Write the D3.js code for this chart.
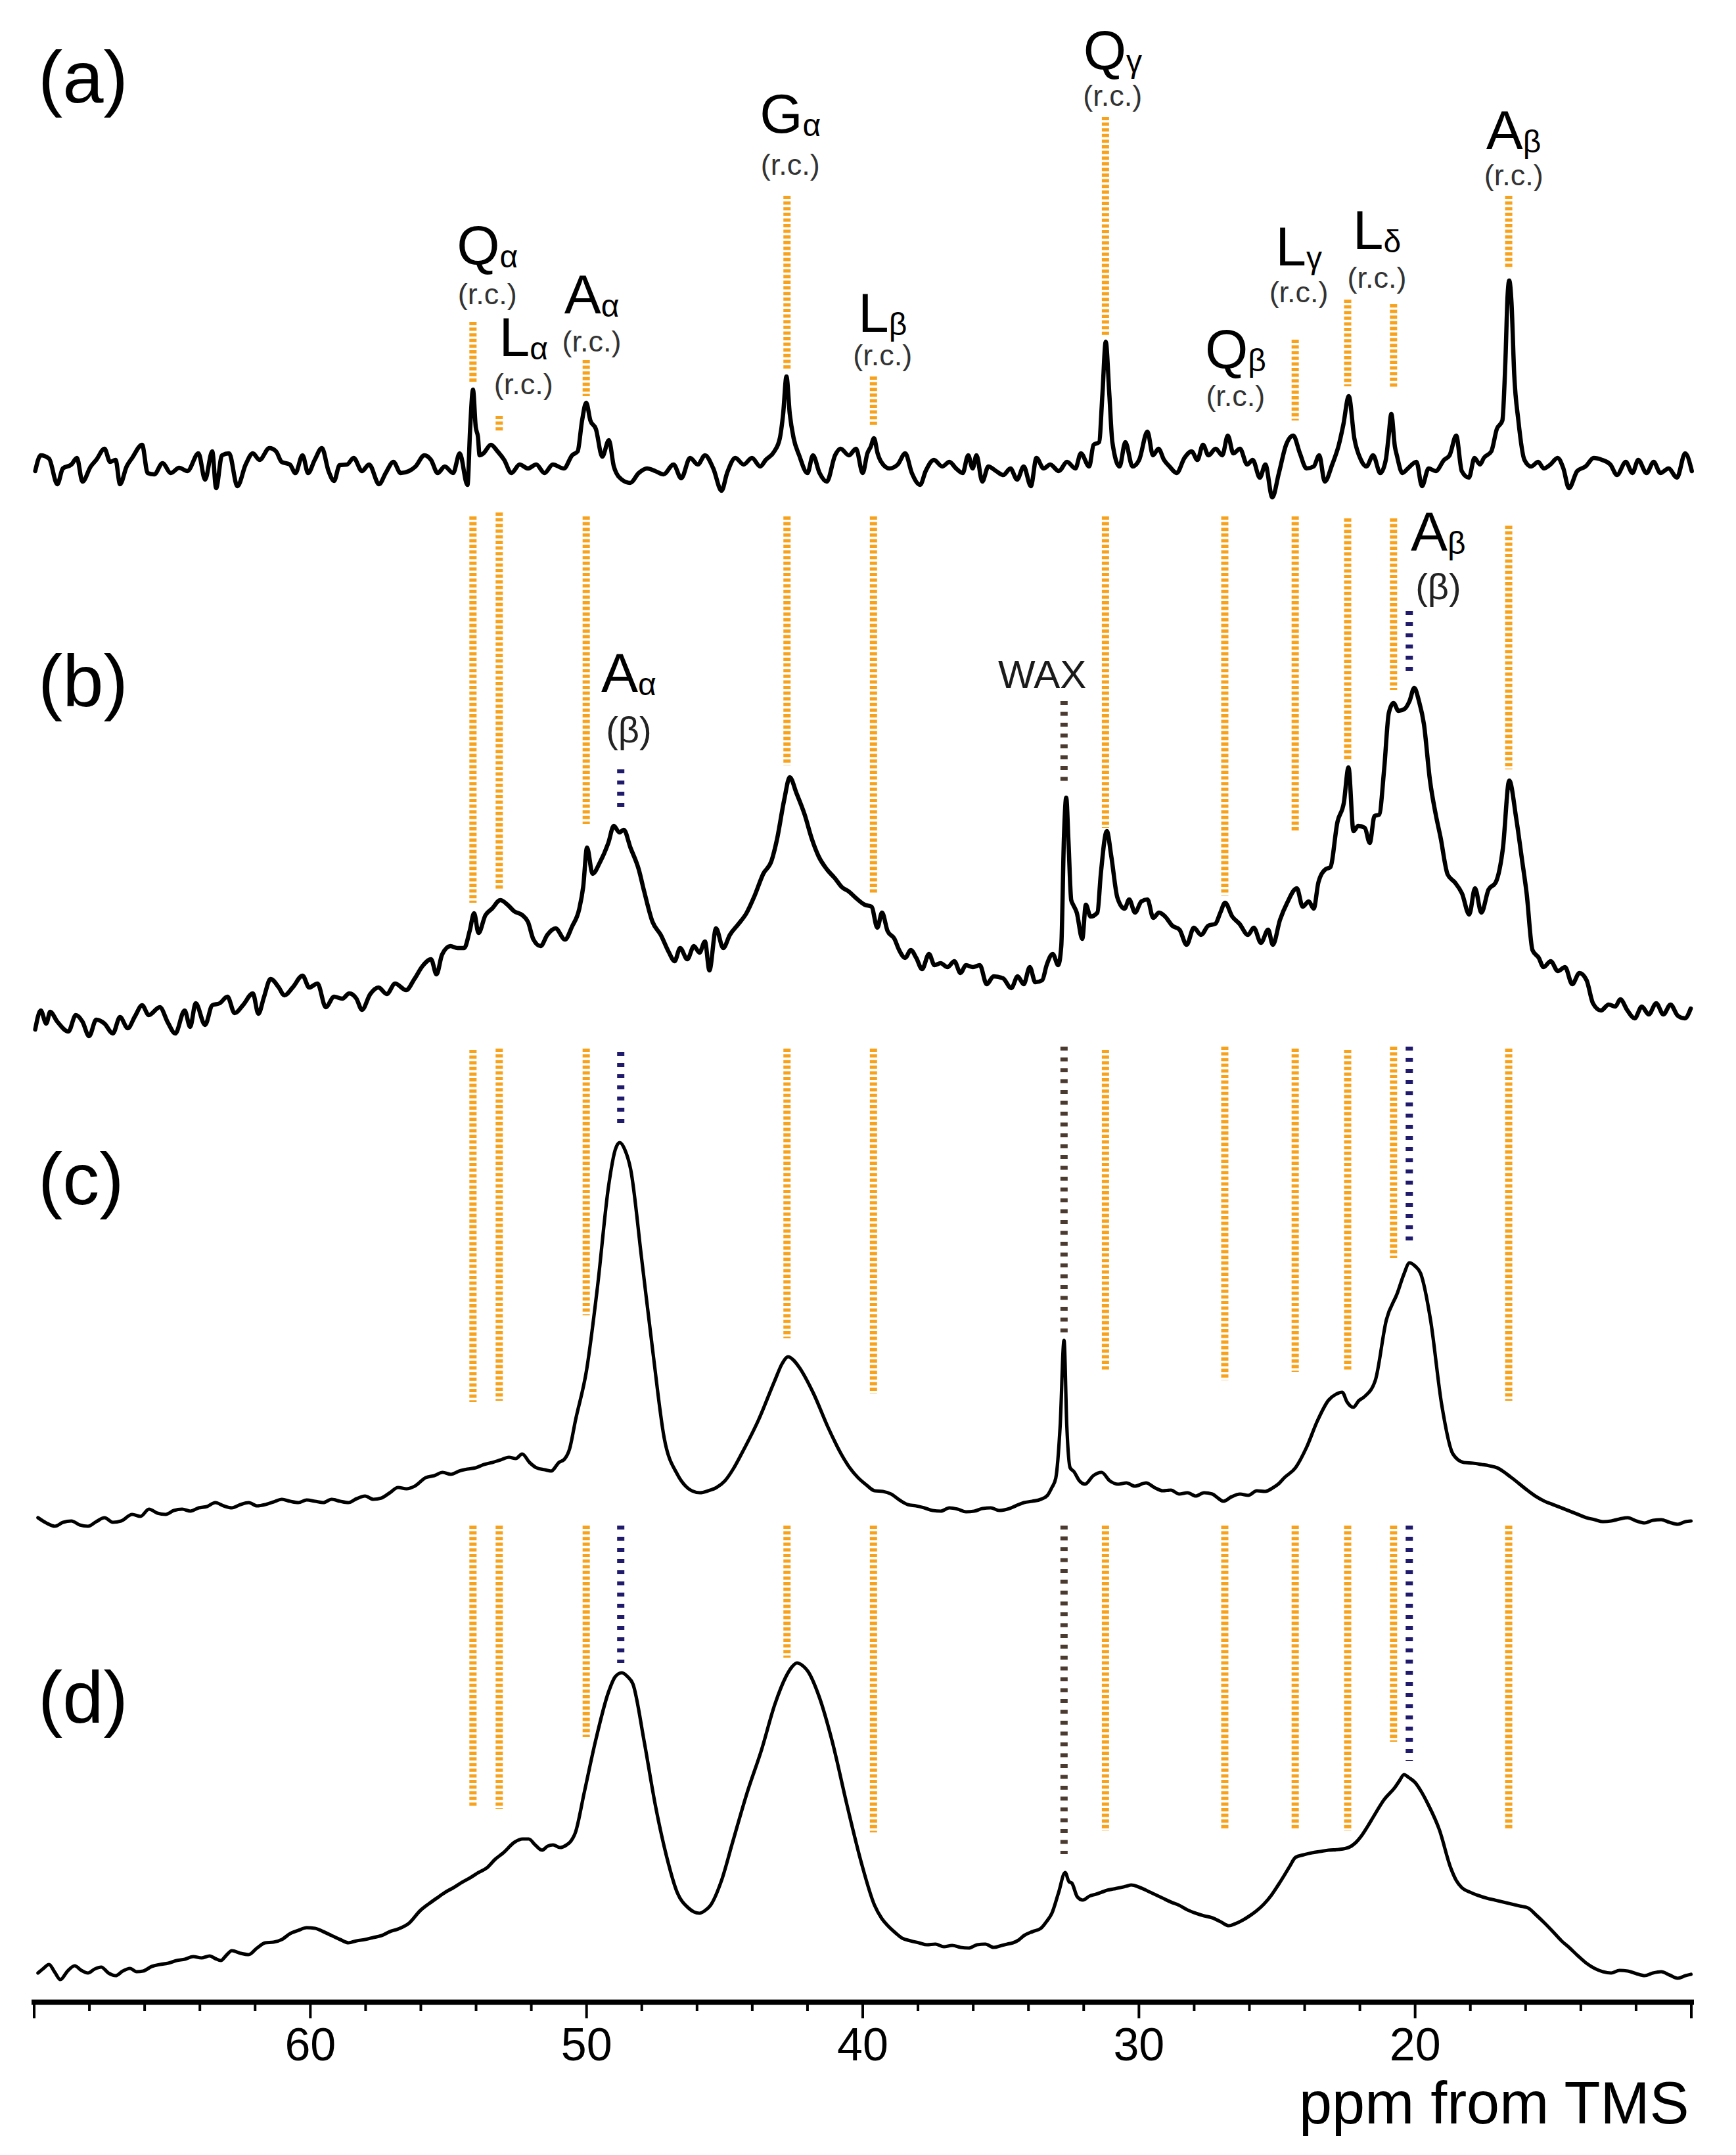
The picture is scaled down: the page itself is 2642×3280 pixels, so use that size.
<!DOCTYPE html>
<html><head><meta charset="utf-8">
<script src="https://cdn.jsdelivr.net/npm/d3@7"></script>
<style>
html,body{margin:0;padding:0;background:#fff;}
svg{display:block;}
</style></head><body>
<svg id="chart" width="2642" height="3280"></svg>
<script>
// ---------- DATA (ppm, intensity in arbitrary units above each trace's baseline) ----------
const specA = [[69.95,23],[69.75,47],[69.45,42],[69.15,3],[68.95,27],[68.64,33],[68.44,43],[68.24,7],[67.94,30],[67.74,40],[67.44,57],[67.24,37],[67.04,40],[66.88,3],[66.64,30],[66.44,43],[66.08,63],[65.88,20],[65.64,18],[65.34,35],[65.04,20],[64.74,28],[64.44,23],[64.04,50],[63.8,10],[63.54,53],[63.4,-3],[63.19,47],[62.93,50],[62.63,0],[62.33,33],[62.07,50],[61.83,40],[61.47,58],[61.23,53],[61.03,37],[60.73,33],[60.53,20],[60.27,47],[60.07,20],[59.83,40],[59.57,58],[59.33,23],[59.13,8],[58.93,32],[58.66,33],[58.42,43],[58.12,23],[57.86,33],[57.5,3],[57.26,20],[56.98,37],[56.72,20],[56.42,23],[56.18,30],[55.86,47],[55.62,40],[55.38,20],[55.12,30],[54.82,20],[54.58,50],[54.3,2],[54.2,90],[54.1,147],[54.0,90],[53.92,75],[53.86,47],[53.72,50],[53.45,63],[53.21,53],[52.97,40],[52.71,20],[52.41,33],[52.11,27],[51.81,33],[51.51,20],[51.21,33],[50.81,27],[50.51,47],[50.31,53],[50.15,100],[50.0,127],[49.85,100],[49.65,87],[49.42,45],[49.18,70],[49.0,30],[48.91,20],[48.71,10],[48.41,5],[48.1,20],[47.8,27],[47.5,23],[47.2,18],[46.84,33],[46.56,12],[46.24,43],[45.96,33],[45.7,47],[45.4,27],[45.1,-7],[44.9,20],[44.6,43],[44.3,33],[44.0,43],[43.7,30],[43.5,40],[43.19,53],[42.99,73],[42.87,110],[42.75,167],[42.63,110],[42.49,73],[42.29,47],[41.99,20],[41.79,47],[41.55,20],[41.29,7],[40.99,47],[40.79,57],[40.49,47],[40.23,57],[39.99,20],[39.82,50],[39.7,60],[39.58,73],[39.45,50],[39.32,37],[39.02,27],[38.72,33],[38.45,50],[38.21,20],[37.91,2],[37.71,23],[37.41,40],[37.11,30],[36.85,37],[36.61,27],[36.37,20],[36.17,47],[36.01,27],[35.87,47],[35.66,7],[35.44,30],[35.16,23],[34.9,17],[34.64,27],[34.4,10],[34.16,30],[33.9,0],[33.7,43],[33.44,27],[33.2,33],[32.89,23],[32.59,37],[32.29,27],[32.09,50],[31.79,30],[31.63,63],[31.43,67],[31.31,140],[31.19,220],[31.06,140],[30.95,67],[30.69,30],[30.48,67],[30.22,30],[29.98,40],[29.68,83],[29.48,47],[29.28,57],[29.08,40],[28.88,30],[28.62,20],[28.34,43],[28.08,53],[27.87,40],[27.67,63],[27.47,47],[27.21,57],[26.97,47],[26.77,77],[26.57,50],[26.33,57],[26.07,33],[25.87,40],[25.61,13],[25.41,33],[25.16,-17],[24.92,20],[24.66,63],[24.4,77],[24.16,50],[23.92,27],[23.66,30],[23.46,47],[23.26,7],[22.99,33],[22.75,63],[22.59,93],[22.39,137],[22.19,73],[21.95,40],[21.75,30],[21.51,47],[21.25,20],[21.05,40],[20.95,75],[20.85,110],[20.72,60],[20.65,47],[20.45,20],[20.25,27],[19.94,37],[19.74,0],[19.5,27],[19.24,23],[18.94,40],[18.74,47],[18.5,77],[18.3,23],[18.04,13],[17.84,43],[17.64,33],[17.5,43],[17.23,53],[17.03,87],[16.83,100],[16.72,190],[16.64,290],[16.58,313],[16.5,280],[16.4,170],[16.25,100],[16.03,40],[15.79,30],[15.53,37],[15.33,27],[15.09,33],[14.83,43],[14.62,27],[14.42,-3],[14.12,23],[13.82,30],[13.52,43],[13.22,40],[12.92,33],[12.68,17],[12.36,37],[12.12,20],[11.91,40],[11.61,20],[11.35,37],[11.11,20],[10.81,27],[10.51,13],[10.21,50],[9.97,23]];

const specB = [[69.95,3],[69.75,32],[69.55,12],[69.41,30],[69.15,15],[68.75,0],[68.48,25],[68.24,15],[68.0,-7],[67.74,18],[67.44,12],[67.14,-3],[66.88,22],[66.6,5],[66.34,23],[66.08,40],[65.84,25],[65.44,37],[65.14,13],[64.88,-3],[64.54,32],[64.34,7],[64.14,43],[63.8,10],[63.54,40],[63.27,43],[62.99,53],[62.73,28],[62.43,40],[62.07,58],[61.87,27],[61.67,52],[61.43,80],[61.13,67],[60.93,55],[60.63,67],[60.27,85],[60.03,67],[59.73,73],[59.43,37],[59.13,53],[58.83,50],[58.58,58],[58.32,50],[58.12,33],[57.82,57],[57.52,67],[57.22,57],[56.92,73],[56.52,63],[56.22,80],[55.92,100],[55.62,110],[55.42,87],[55.22,117],[54.92,130],[54.66,127],[54.42,127],[54.22,153],[54.06,180],[53.9,150],[53.65,177],[53.41,187],[53.11,200],[52.85,193],[52.61,183],[52.31,177],[52.11,167],[51.91,140],[51.65,130],[51.41,147],[51.11,157],[50.77,140],[50.51,160],[50.25,187],[50.11,220],[49.97,280],[49.77,240],[49.51,257],[49.2,287],[49.0,313],[48.8,303],[48.64,307],[48.4,280],[48.1,247],[47.9,213],[47.6,167],[47.3,147],[47.0,120],[46.8,107],[46.6,127],[46.34,110],[46.1,130],[45.9,120],[45.7,137],[45.54,93],[45.3,157],[45.04,127],[44.8,147],[44.5,163],[44.2,180],[43.9,207],[43.59,240],[43.29,260],[43.09,293],[42.83,353],[42.63,387],[42.39,363],[42.09,330],[41.83,293],[41.59,267],[41.29,247],[40.99,233],[40.75,220],[40.49,213],[40.23,203],[39.92,193],[39.67,190],[39.46,158],[39.29,181],[39.09,153],[38.84,141],[38.67,124],[38.45,112],[38.25,124],[38.05,112],[37.84,95],[37.59,118],[37.39,101],[37.17,104],[36.92,98],[36.67,107],[36.45,89],[36.25,101],[36.0,98],[35.75,101],[35.5,72],[35.25,84],[34.91,81],[34.61,66],[34.38,84],[34.16,72],[33.94,98],[33.74,75],[33.49,78],[33.33,101],[33.11,118],[32.91,101],[32.8,130],[32.7,300],[32.62,356],[32.54,290],[32.44,200],[32.37,193],[32.24,181],[32.04,141],[31.91,193],[31.74,175],[31.49,181],[31.37,239],[31.15,305],[30.99,267],[30.77,204],[30.51,187],[30.34,201],[30.13,181],[29.9,198],[29.68,201],[29.47,173],[29.26,181],[29.04,175],[28.78,161],[28.52,155],[28.26,132],[28.0,158],[27.74,147],[27.48,161],[27.22,164],[27.04,181],[26.87,196],[26.61,175],[26.35,164],[26.04,147],[25.83,158],[25.57,135],[25.31,155],[25.14,132],[24.88,170],[24.62,196],[24.27,218],[24.06,190],[23.84,198],[23.66,187],[23.49,227],[23.23,247],[23.06,250],[22.8,319],[22.57,348],[22.4,402],[22.22,305],[22.05,313],[21.81,310],[21.63,287],[21.46,328],[21.29,330],[21.11,399],[20.94,485],[20.77,500],[20.59,488],[20.37,491],[20.19,503],[20.02,523],[19.85,503],[19.67,468],[19.45,382],[19.24,330],[19.07,296],[18.81,239],[18.55,227],[18.29,210],[18.03,178],[17.82,218],[17.59,181],[17.33,216],[17.07,227],[16.81,279],[16.58,382],[16.33,325],[16.12,262],[15.95,210],[15.74,124],[15.51,112],[15.34,98],[15.08,107],[14.82,92],[14.56,98],[14.3,72],[14.04,89],[13.78,78],[13.55,43],[13.26,32],[12.98,41],[12.74,38],[12.56,49],[12.3,32],[12.04,20],[11.78,38],[11.53,26],[11.26,43],[11.0,26],[10.74,41],[10.48,24],[10.22,20],[10.01,35]];

const specC = [[69.85,20],[69.55,12],[69.24,7],[68.94,13],[68.64,15],[68.34,9],[68.04,7],[67.74,14],[67.44,20],[67.14,13],[66.84,15],[66.44,25],[66.14,22],[65.83,33],[65.53,27],[65.23,25],[64.93,31],[64.63,33],[64.33,30],[64.03,35],[63.73,37],[63.43,43],[63.13,38],[62.83,35],[62.52,40],[62.22,43],[61.92,38],[61.62,40],[61.32,44],[61.02,48],[60.72,45],[60.42,43],[60.12,47],[59.82,45],[59.52,43],[59.22,48],[58.91,45],[58.61,43],[58.31,49],[58.01,53],[57.71,48],[57.41,50],[57.11,58],[56.81,66],[56.51,64],[56.21,68],[55.81,81],[55.5,84],[55.2,89],[54.9,86],[54.6,91],[54.3,94],[54.0,96],[53.7,101],[53.4,104],[53.1,108],[52.8,112],[52.55,110],[52.32,117],[52.05,104],[51.8,96],[51.5,93],[51.27,91],[50.99,104],[50.79,109],[50.6,125],[50.39,168],[49.99,244],[49.59,372],[49.19,525],[48.95,580],[48.79,591],[48.6,580],[48.39,550],[47.99,413],[47.58,270],[47.18,142],[46.7,86],[46.4,68],[46.18,61],[45.88,58],[45.58,61],[45.28,66],[44.98,76],[44.68,94],[44.38,117],[43.77,168],[43.17,229],[42.9,255],[42.69,265],[42.5,260],[42.29,249],[41.77,209],[41.25,158],[40.77,117],[40.46,96],[40.16,81],[39.86,70],[39.56,61],[39.26,60],[38.96,56],[38.66,47],[38.36,40],[38.06,38],[37.76,35],[37.46,31],[37.16,30],[36.85,35],[36.55,33],[36.25,29],[35.95,30],[35.65,34],[35.35,35],[35.05,31],[34.75,33],[34.45,38],[34.15,43],[33.85,45],[33.54,48],[33.3,54],[33.14,66],[33.0,80],[32.84,160],[32.7,290],[32.6,160],[32.48,96],[32.34,90],[32.14,76],[31.94,71],[31.64,84],[31.34,89],[31.04,76],[30.74,71],[30.44,73],[30.14,68],[29.73,73],[29.43,66],[29.13,61],[28.83,62],[28.53,56],[28.23,58],[27.93,53],[27.63,58],[27.33,56],[27.13,50],[26.93,45],[26.63,52],[26.33,56],[26.03,54],[25.72,61],[25.42,60],[25.12,66],[24.92,72],[24.72,81],[24.32,96],[23.92,127],[23.52,168],[23.12,199],[22.85,208],[22.63,211],[22.45,196],[22.23,188],[22.03,198],[21.83,204],[21.43,229],[21.03,321],[20.63,362],[20.4,390],[20.19,408],[19.99,403],[19.79,392],[19.43,321],[19.03,193],[18.62,117],[18.22,104],[17.9,103],[17.58,101],[17.3,99],[17.02,96],[16.5,81],[15.9,61],[15.6,52],[15.3,45],[15.0,40],[14.69,35],[14.39,30],[14.09,25],[13.79,20],[13.49,17],[13.19,14],[12.89,15],[12.59,18],[12.29,20],[11.98,15],[11.68,12],[11.38,16],[11.08,17],[10.78,13],[10.48,10],[10.2,14],[10.0,15]];

const specD = [[69.85,17],[69.65,24],[69.45,30],[69.24,18],[69.04,7],[68.78,20],[68.52,28],[68.28,21],[68.04,17],[67.8,23],[67.56,26],[67.3,17],[67.04,13],[66.78,20],[66.52,24],[66.28,19],[66.04,20],[65.73,27],[65.43,30],[65.13,32],[64.83,36],[64.53,38],[64.23,42],[63.93,40],[63.63,43],[63.43,39],[63.23,36],[63.03,44],[62.83,51],[62.52,47],[62.22,45],[61.92,55],[61.62,63],[61.32,64],[61.02,68],[60.72,77],[60.42,82],[60.12,86],[59.82,85],[59.52,80],[59.22,74],[58.91,68],[58.61,63],[58.31,66],[58.01,68],[57.71,71],[57.41,74],[57.11,80],[56.81,84],[56.41,93],[56.01,112],[55.71,122],[55.41,131],[55.1,140],[54.8,147],[54.5,155],[54.2,162],[53.9,170],[53.6,177],[53.3,190],[53.0,200],[52.6,216],[52.3,221],[52.08,221],[51.85,212],[51.6,204],[51.4,210],[51.2,212],[50.95,208],[50.71,212],[50.55,218],[50.39,231],[50.07,292],[49.67,369],[49.19,445],[48.95,468],[48.71,474],[48.5,468],[48.31,457],[47.9,369],[47.5,273],[47.1,196],[46.7,139],[46.3,116],[46.1,110],[45.9,108],[45.7,112],[45.5,120],[45.1,158],[44.7,216],[44.17,292],[43.65,357],[43.17,426],[42.77,468],[42.55,483],[42.37,489],[42.17,485],[41.97,476],[41.57,438],[41.09,369],[40.56,273],[40.04,185],[39.56,120],[39.3,100],[39.08,89],[38.8,78],[38.56,70],[38.26,66],[37.96,63],[37.66,60],[37.36,61],[37.05,57],[36.75,59],[36.45,56],[36.15,55],[35.85,60],[35.55,61],[35.25,56],[34.95,59],[34.75,61],[34.55,63],[34.35,67],[34.15,74],[33.84,80],[33.54,85],[33.34,95],[33.14,108],[32.9,139],[32.66,170],[32.52,156],[32.42,154],[32.22,133],[32.02,128],[31.78,134],[31.54,137],[31.34,140],[31.14,143],[30.9,145],[30.66,147],[30.46,149],[30.26,151],[30.0,148],[29.73,143],[29.43,137],[29.13,131],[28.83,125],[28.53,120],[28.23,113],[27.93,108],[27.63,104],[27.33,101],[27.03,95],[26.73,89],[26.5,92],[26.25,97],[25.98,104],[25.72,112],[25.46,122],[25.2,135],[24.96,150],[24.72,166],[24.52,180],[24.32,193],[24.02,197],[23.72,200],[23.42,202],[23.12,204],[22.76,205],[22.4,208],[22.15,215],[21.91,227],[21.71,240],[21.51,254],[21.11,281],[20.71,300],[20.55,310],[20.39,319],[20.2,314],[19.99,307],[19.75,292],[19.51,273],[19.11,235],[18.7,177],[18.5,158],[18.3,147],[18.0,140],[17.7,135],[17.4,131],[17.1,128],[16.8,125],[16.5,122],[16.2,119],[15.9,116],[15.6,105],[15.3,93],[15.0,80],[14.69,66],[14.39,55],[14.09,43],[13.79,32],[13.49,24],[13.19,19],[12.89,17],[12.59,21],[12.29,20],[11.98,16],[11.68,13],[11.38,17],[11.08,19],[10.78,14],[10.48,9],[10.2,13],[10.0,15]];

// assignment markers (ppm) and their kind
const markerPpm  = [54.1, 53.15, 50.0, 48.75, 42.73, 39.6, 32.7, 31.2, 26.88, 24.33, 22.43, 20.77, 20.2, 16.6];
const markerKind = ["rc","rc","rc","beta","rc","rc","wax","rc","rc","rc","rc","rc","beta","rc"];

// marker extents per trace [top, bottom] in that trace's intensity units (null = not drawn)
const markA = [[250,157],[107,82],[192,137],null,[442,178],[167,92],null,[562,230],null,[223,100],[284,152],[277,150],null,[442,330]];
const markB = [[784,196],[790,216],[784,316],[399,339],[784,405],[784,210],[503,379],[784,310],[784,207],[784,305],[781,411],[781,520],[640,546],[770,399]];
const markC = [[732,196],[734,198],[734,328],[729,614],[734,293],[734,209],[737,298],[732,242],[737,229],[734,242],[732,242],[737,415],[737,433],[734,198]];
const markD = [[698,271],[698,267],[698,376],[698,489],[698,497],[698,231],[698,198],[698,233],[698,235],[698,235],[698,233],[698,369],[698,340],[698,237]];

// labels of trace (a): residue, atom, ppm of label centre, level (trace a units)
const labelMainA = ["Q","L","A","G","L","Q","Q","L","L","A"];
const labelSubA  = ["α","α","α","α","β","γ","β","γ","δ","β"];
const labelPpmA  = [53.58, 52.27, 49.8, 42.61, 39.27, 30.94, 26.49, 24.2, 21.37, 16.42];
const labelLevelA = [338, 198, 263, 538, 235, 635, 180, 336, 361, 513];
const noteLevelA  = [277, 140, 205, 474, 184, 579, 122, 280, 302, 458];

// labels of trace (b)
const labelMainB = ["A","A"];
const labelSubB  = ["α","β"];
const labelPpmB  = [48.46, 19.15];
const labelLevelB = [517, 732];
const noteLevelB  = [440, 658];
const waxPpm = 33.49, waxLevel = 523;

const panelNames = ["(a)","(b)","(c)","(d)"];
const tickValues = d3.range(10, 71, 2);
const tickLabels = [60, 50, 40, 30, 20];
const axisTitle = "ppm from TMS";

// ---------- DRAWING ----------
const W = 2642, H = 3280;
const FONT = '"Liberation Sans", Arial, Helvetica, sans-serif';
const svg = d3.select("#chart");
svg.append("rect").attr("width", W).attr("height", H).attr("fill", "#fff");

const x = d3.scaleLinear().domain([70, 10]).range([51.5, 2573.5]);
const mkY = base => d3.scaleLinear().domain([0, 100]).range([base, base - 100]);

const panels = [
  {data: specA, marks: markA, y: mkY(740),  lw: 6.5, nameBase: 156},
  {data: specB, marks: markB, y: mkY(1570), lw: 6.5, nameBase: 1075},
  {data: specC, marks: markC, y: mkY(2330), lw: 5.2, nameBase: 1833},
  {data: specD, marks: markD, y: mkY(3020), lw: 5.2, nameBase: 2622}
];

const colorOf = {rc: "#F8A21C", beta: "#1F1A6B", wax: "#4B3A2F"};
const dashOf  = {rc: "5 3.6", beta: "6 11", wax: "6 10.5"};

panels.forEach((p, i) => {
  const g = svg.append("g");
  p.marks.forEach((m, k) => {
    if (!m) return;
    const kind = markerKind[k];
    g.append("line")
      .attr("x1", x(markerPpm[k])).attr("x2", x(markerPpm[k]))
      .attr("y1", p.y(m[0])).attr("y2", p.y(m[1]))
      .attr("stroke", colorOf[kind])
      .attr("stroke-width", 11)
      .attr("stroke-dasharray", dashOf[kind]);
  });
  const line = d3.line().x(d => x(d[0])).y(d => p.y(d[1])).curve(d3.curveMonotoneX);
  g.append("path").datum(p.data)
    .attr("d", line)
    .attr("fill", "none").attr("stroke", "#000")
    .attr("stroke-width", p.lw)
    .attr("stroke-linejoin", "round").attr("stroke-linecap", "round");
  svg.append("text").attr("x", 58).attr("y", p.nameBase)
    .attr("font-family", FONT).attr("font-size", 112).attr("fill", "#000")
    .text(panelNames[i]);
});

function atomLabel(yScale, ppm, level, main, sub) {
  const t = svg.append("text")
    .attr("x", x(ppm)).attr("y", yScale(level))
    .attr("text-anchor", "middle").attr("font-family", FONT).attr("fill", "#000");
  t.append("tspan").attr("font-size", 84).text(main);
  t.append("tspan").attr("font-size", 48).attr("dy", 5).text(sub);
}
function noteLabel(yScale, ppm, level, txt, size, color) {
  svg.append("text")
    .attr("x", x(ppm)).attr("y", yScale(level))
    .attr("text-anchor", "middle").attr("font-family", FONT)
    .attr("font-size", size).attr("fill", color).text(txt);
}

labelMainA.forEach((m, k) => {
  atomLabel(panels[0].y, labelPpmA[k], labelLevelA[k], m, labelSubA[k]);
  noteLabel(panels[0].y, labelPpmA[k], noteLevelA[k], "(r.c.)", 45, "#333");
});
labelMainB.forEach((m, k) => {
  atomLabel(panels[1].y, labelPpmB[k], labelLevelB[k], m, labelSubB[k]);
  noteLabel(panels[1].y, labelPpmB[k], noteLevelB[k], "(β)", 56, "#222");
});
noteLabel(panels[1].y, waxPpm, waxLevel, "WAX", 60, "#1a1a1a");

// ---------- AXIS ----------
const axisY = 3047;
const axis = d3.axisBottom(x)
  .tickValues(tickValues)
  .tickSize(14).tickSizeOuter(0)
  .tickFormat(d => tickLabels.includes(d) ? String(d) : "");
const ga = svg.append("g").attr("transform", `translate(0,${axisY})`).call(axis);
ga.select(".domain").attr("stroke", "#000").attr("stroke-width", 8).attr("stroke-linecap", "square");
ga.selectAll(".tick line").attr("stroke", "#000").attr("stroke-width", 4)
  .attr("y2", d => (d % 10 === 0) ? 25 : 14);
ga.selectAll(".tick text")
  .attr("y", 89).attr("dy", null)
  .attr("font-family", FONT).attr("font-size", 70).attr("fill", "#000");

svg.append("text")
  .attr("x", x(10) - 3).attr("y", 3232)
  .attr("text-anchor", "end").attr("font-family", FONT)
  .attr("font-size", 90).attr("fill", "#000")
  .text(axisTitle);
</script>
</body></html>
